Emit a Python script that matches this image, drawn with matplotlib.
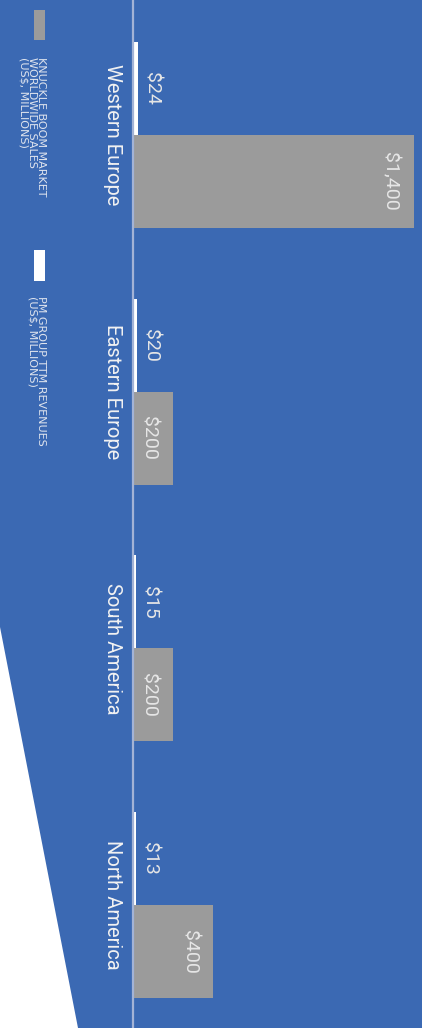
import numpy as np
import matplotlib
matplotlib.use('Agg')
import matplotlib.pyplot as plt
from matplotlib.patches import Polygon, Rectangle
from matplotlib.transforms import blended_transform_factory

plt.rcParams['font.family'] = ['Roboto', 'DejaVu Sans']

regions = ['Western Europe', 'Eastern Europe', 'South America', 'North America']
pm_revenue = [24, 20, 15, 13]
market_sales = [1400, 200, 200, 400]
pm_labels = ['$24', '$20', '$15', '$13']
market_labels = ['$1,400', '$200', '$200', '$400']
legend_market = 'KNUCKLE BOOM MARKET\nWORLDWIDE SALES\n(US$, MILLIONS)'
legend_pm = 'PM GROUP TTM REVENUES\n(US$, MILLIONS)'

blue = '#3b69b3'
gray = '#9b9b9b'
W, H = 422, 1028

fig = plt.figure(figsize=(W / 100, H / 100), dpi=100, facecolor=blue)

# white corner wedge
fig.add_artist(Polygon([(0, 1 - 627 / H), (0, 0), (78 / W, 0)],
                       closed=True, transform=fig.transFigure,
                       facecolor='white', edgecolor='none', zorder=0))

ax = fig.add_axes([133 / W, 0, (W - 133) / W, 1])
ax.set_facecolor('none')

y = np.arange(len(regions))
h = 0.362
ax.barh(y - h / 2, pm_revenue, height=h, color='white', zorder=2)
ax.barh(y + h / 2, market_sales, height=h, color=gray, zorder=2)

ax.set_xlim(0, 1440)
ax.set_ylim(3.479, -0.526)
for s in ['top', 'right', 'bottom']:
    ax.spines[s].set_visible(False)
ax.spines['left'].set_color('#a3b3d6')
ax.spines['left'].set_linewidth(1.6)
ax.set_xticks([])
ax.set_yticks([])

for i in range(len(regions)):
    ax.annotate(pm_labels[i], (pm_revenue[i], y[i] - h / 2), xytext=(3.5, 0),
                textcoords='offset points', rotation=-90, ha='left', va='center',
                color='#e6e6e6', fontsize=14)
    ax.annotate(market_labels[i], (market_sales[i], y[i] + h / 2), xytext=(-11, 0),
                textcoords='offset points', rotation=-90, ha='right', va='center',
                color='#e6e6e6', fontsize=14)

tr = blended_transform_factory(fig.transFigure, ax.transData)
for i, r in enumerate(regions):
    ax.text(112 / W, y[i], r, transform=tr, rotation=-90, ha='center', va='center',
            color='#f2f2f2', fontsize=14.5)

# legend drawn by hand (rotated)
fig.add_artist(Rectangle((34 / W, 1 - 40 / H), 11 / W, 30 / H, transform=fig.transFigure,
                         facecolor=gray, edgecolor='none'))
fig.add_artist(Rectangle((34 / W, 1 - 281 / H), 11 / W, 31 / H, transform=fig.transFigure,
                         facecolor='white', edgecolor='none'))
fig.text(46 / W, 1 - 57 / H, legend_market, rotation=-90, ha='right', va='top',
         multialignment='left', color='#dfe4ee', fontsize=8, linespacing=0.82,
         family='DejaVu Sans')
fig.text(46 / W, 1 - 296 / H, legend_pm, rotation=-90, ha='right', va='top',
         multialignment='left', color='#dfe4ee', fontsize=8, linespacing=0.82,
         family='DejaVu Sans')

fig.savefig('out.png', dpi=100, facecolor=blue)
